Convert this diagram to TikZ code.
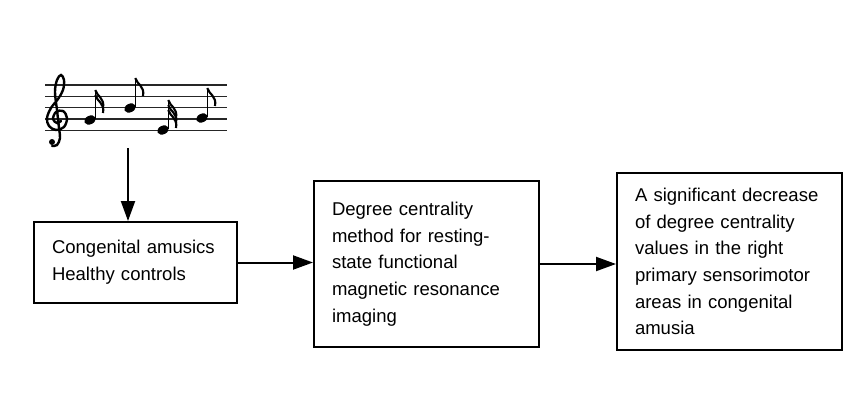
\documentclass[tikz,border=0pt]{standalone}
\usepackage{fontspec}
\setmainfont{Liberation Sans}
\usetikzlibrary{arrows.meta,positioning,calc}
\tikzset{
  blk/.style = {rectangle, draw=black, line width=1.5pt, align=left, anchor=center,
                font=\fontsize{13.9pt}{20pt}\selectfont, inner xsep=13.5pt, inner ysep=0pt},
  fl/.style  = {-{Triangle[length=15pt,width=10.5pt]}, line width=1.5pt},
  stf/.style = {line width=0.9pt, black!85},
  stm/.style = {line width=1pt},
  flg/.style = {line width=1.6pt},
}
\newcommand{\notehead}[3]{% x, y, flags
  \fill (#1,#2) ellipse [x radius=6, y radius=4.3, rotate=25];
  \draw[stm] (#1+5.3,#2-1) -- (#1+5.3,#2-30);
  \foreach \k in {1,...,#3}{
    \draw[flg] (#1+5.3,#2-30+5*\k-5) .. controls (#1+6.5,#2-24+5*\k-5) and (#1+15,#2-22+5*\k-5) .. (#1+13,#2-12+5*\k-5);
  }
}
\begin{document}
\begin{tikzpicture}[x=0.75pt,y=-0.75pt]
  \useasboundingbox (0,0) rectangle (844,411);
  \foreach \yy in {85,96.3,107.6,118.9,130.2} \draw[stf] (45,\yy) -- (227,\yy);
  \draw[line width=1.8pt, line cap=round] plot[smooth, tension=0.6] coordinates {
    (61,121) (57,123) (53,119) (56,112) (63,111) (67,118) (64,127) (56,130) (49,126)
    (47,118) (51,108) (58,99) (63,90) (64,80) (61,75) (57,80) (55,92) (57,110)
    (59,128) (60,138) (57,145) (52,146)};
  \fill (52,142) circle [radius=3];
  \notehead{90}{120}{2}
  \notehead{130}{108}{1}
  \notehead{163}{130}{3}
  \notehead{202}{118}{1}
  \coordinate (tune) at (128,148);
  \node[blk, minimum width=152.25pt, minimum height=60.75pt, text width=125.25pt]
    (amus) at (135.5,262.5) {Congenital amusics\\Healthy controls};
  \node[blk, minimum width=168.75pt, minimum height=124.5pt, text width=141.75pt]
    (dc) at (426.5,264) {Degree centrality\\method for resting-\\state functional\\magnetic resonance\\imaging};
  \node[blk, minimum width=168.75pt, minimum height=132.75pt, text width=141.75pt]
    (res) at (729.5,261.5) {A significant decrease\\of degree centrality\\values in the right\\primary sensorimotor\\areas in congenital\\amusia};
  \draw[fl] (tune) -- (tune |- amus.north);
  \draw[fl] (amus.east) -- (amus.east -| dc.west);
  \draw[fl] (dc.east) -- (dc.east -| res.west);
\end{tikzpicture}
\end{document}
